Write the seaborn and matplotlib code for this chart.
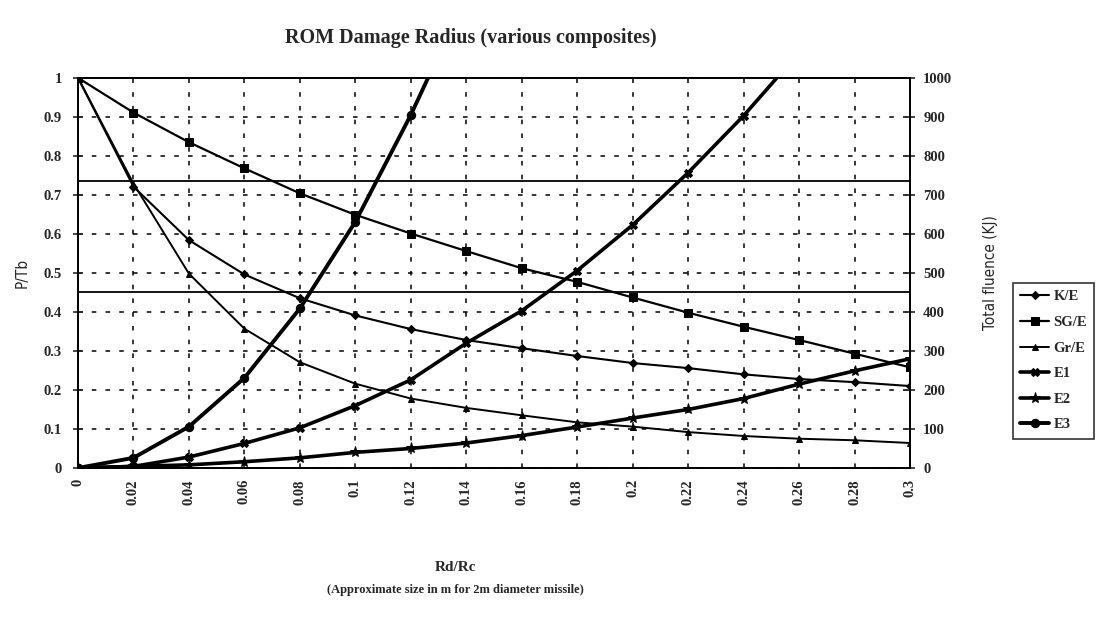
import numpy as np
import pandas as pd
import matplotlib
matplotlib.use("Agg")
import matplotlib.pyplot as plt
import seaborn as sns

# ---------------- data ----------------
rd_rc = [0.00, 0.02, 0.04, 0.06, 0.08, 0.10, 0.12, 0.14, 0.16, 0.18,
         0.20, 0.22, 0.24, 0.26, 0.28, 0.30]
x_tick_labels = ["0", "0.02", "0.04", "0.06", "0.08", "0.1", "0.12", "0.14",
                 "0.16", "0.18", "0.2", "0.22", "0.24", "0.26", "0.28", "0.3"]

k_e = [1.00, 0.721, 0.584, 0.496, 0.435, 0.391, 0.356, 0.328, 0.307, 0.287,
       0.269, 0.256, 0.240, 0.228, 0.220, 0.210]
sg_e = [1.00, 0.911, 0.835, 0.768, 0.704, 0.649, 0.601, 0.556, 0.512, 0.477,
        0.437, 0.398, 0.362, 0.328, 0.293, 0.258]
gr_e = [1.00, 0.729, 0.498, 0.357, 0.271, 0.216, 0.178, 0.154, 0.135, 0.117,
        0.106, 0.092, 0.082, 0.075, 0.071, 0.064]

e1 = [0, 4, 28, 63, 103, 160, 226, 320, 403, 506, 623, 757, 903, 1065,
      np.nan, np.nan]
e2 = [0, 4, 8, 16, 26, 40, 50, 64, 83, 105, 128, 150, 178, 215, 249, 280]
e3 = [0, 26, 106, 231, 409, 631, 905, 1210, np.nan, np.nan, np.nan, np.nan,
      np.nan, np.nan, np.nan, np.nan]

ref_levels = [0.735, 0.45]

left_ticks = [0, 0.1, 0.2, 0.3, 0.4, 0.5, 0.6, 0.7, 0.8, 0.9, 1.0]
left_tick_labels = ["0", "0.1", "0.2", "0.3", "0.4", "0.5", "0.6", "0.7", "0.8", "0.9", "1"]
right_ticks = [0, 100, 200, 300, 400, 500, 600, 700, 800, 900, 1000]

# ---------------- style ----------------
sns.set_style("white")
plt.rcParams["font.family"] = ["Liberation Serif", "DejaVu Serif"]

fig = plt.figure(figsize=(11.02, 6.33), dpi=100)
ax = fig.add_axes([0.0708, 0.2607, 0.7550, 0.6163])
ax2 = ax.twinx()

df = pd.DataFrame({"x": rd_rc, "K/E": k_e, "SG/E": sg_e, "Gr/E": gr_e,
                   "E1": e1, "E2": e2, "E3": e3})

left_series = [("K/E", "D", 4.5, 1.5), ("SG/E", "s", 6, 1.6), ("Gr/E", "^", 5, 1.4)]
right_series = [("E1", "X", 6, 2.6), ("E2", "*", 8, 2.6), ("E3", "o", 6, 2.8)]

for name, mk, ms, lw in left_series:
    sns.lineplot(data=df, x="x", y=name, ax=ax, color="black", marker=mk,
                 markersize=ms, linewidth=lw, markeredgecolor="black",
                 label=name, legend=False)
for name, mk, ms, lw in right_series:
    sns.lineplot(data=df, x="x", y=name, ax=ax2, color="black", marker=mk,
                 markersize=ms, linewidth=lw, markeredgecolor="black",
                 label=name, legend=False)

for lvl in ref_levels:
    ax.axhline(lvl, color="black", linewidth=1.3, zorder=1)

# axes ranges
ax.set_xlim(0, 0.3)
ax.set_ylim(0, 1)
ax2.set_ylim(0, 1000)

ax.set_xticks(rd_rc)
ax.set_xticklabels(x_tick_labels, rotation=90, fontsize=10.5, fontweight="bold")
ax.set_yticks(left_ticks)
ax.set_yticklabels(left_tick_labels, fontsize=10.5, fontweight="bold")
ax2.set_yticks(right_ticks)
ax2.set_yticklabels([str(t) for t in right_ticks], fontsize=10.5, fontweight="bold")
ax.grid(True, color="black", linestyle=(0, (3, 6)), linewidth=1.1)
ax2.grid(False)

ax.tick_params(axis="y", direction="inout", length=7, width=1.2, pad=8)
ax.tick_params(axis="x", direction="out", length=0, pad=8)
ax2.tick_params(axis="y", direction="inout", length=7, width=1.2, pad=6)

for a in (ax, ax2):
    for sp in a.spines.values():
        sp.set_color("black")
        sp.set_linewidth(1.3)
        sp.set_visible(True)

ax.set_xlabel("")
ax.set_ylabel("P/Tb", family=["DejaVu Sans"], fontstretch="condensed",
              fontsize=11, labelpad=10)
ax2.set_ylabel("Total fluence (KJ)", family=["DejaVu Sans"], fontstretch="condensed",
               fontsize=11, labelpad=22)

fig.text(0.427, 0.94, "ROM Damage Radius (various composites)", ha="center",
         va="center", fontsize=14.5, fontweight="bold")
fig.text(0.413, 0.104, "Rd/Rc", ha="center", va="center", fontsize=11,
         fontweight="bold")
fig.text(0.413, 0.068, "(Approximate size in m for 2m diameter missile)",
         ha="center", va="center", fontsize=9, fontweight="bold")

h1, l1 = ax.get_legend_handles_labels()
h2, l2 = ax2.get_legend_handles_labels()
leg = fig.legend(h1 + h2, l1 + l2, loc="center left",
                 bbox_to_anchor=(0.919, 0.43), frameon=True, fancybox=False,
                 edgecolor="black", prop={"weight": "bold", "size": 10.5},
                 handlelength=2.0, handletextpad=0.3, borderpad=0.5,
                 labelspacing=0.85, borderaxespad=0)
leg.get_frame().set_linewidth(1.2)

fig.savefig("out.png", dpi=100, facecolor="white")
